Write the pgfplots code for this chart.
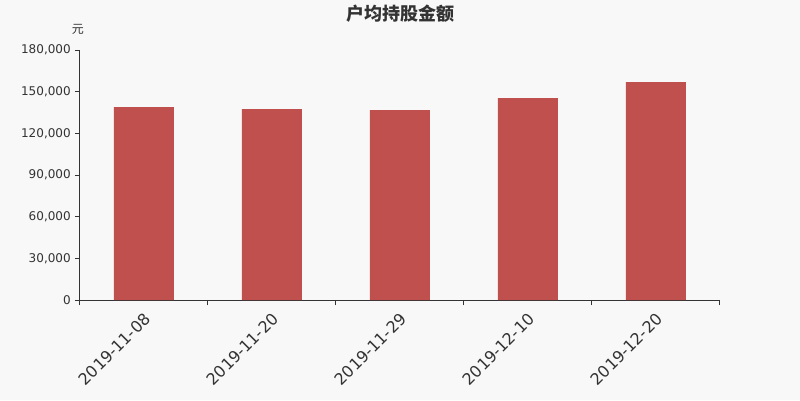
\documentclass[border=0pt]{standalone}
\usepackage{pgfplots}
\pgfplotsset{compat=1.18}
\usepackage{fontspec}
\setmainfont{DejaVu Sans}
\newfontfamily\cjk{Noto Sans CJK SC}
\definecolor{bg}{HTML}{F8F8F8}
\definecolor{barred}{HTML}{C0504D}
\definecolor{txt}{HTML}{333333}
\begin{document}
\begin{tikzpicture}
% 1px = 0.75pt; plot area is 640x250 px at (80,50) in a 800x400 picture
\fill[bg] (-60pt,-75pt) rectangle (540pt,225pt);
\begin{axis}[
  at={(0,0)}, anchor=south west,
  scale only axis,
  width=480pt, height=187.5pt,
  axis lines*=left,
  axis line style={txt, line width=0.75pt},
  xmin=-0.5, xmax=4.5,
  ymin=0, ymax=180000,
  ytick={0,30000,...,180000},
  scaled y ticks=false,
  xtick={-0.5,0.5,...,4.5},
  x tick label as interval,
  xticklabels={2019-11-08,2019-11-20,2019-11-29,2019-12-10,2019-12-20},
  tick align=outside,
  major tick length=3.75pt,
  tick style={txt, line width=0.75pt},
  /pgf/number format/assume math mode=true,
  /pgf/number format/.cd, fixed, 1000 sep={,},
  /pgfplots/.cd,
  yticklabel style={font=\fontsize{9}{10}\selectfont, text=txt, inner sep=0pt, xshift=-3pt},
  xticklabel style={font=\fontsize{12}{13}\selectfont, text=txt, rotate=45, anchor=north east, inner sep=0pt, xshift=-4pt, yshift=-3pt},
  ybar, bar width=45pt,
  clip=false,
]
\addplot[fill=barred, draw=none, bar shift=0pt] coordinates {
  (0,138960) (1,137520) (2,136800) (3,145440) (4,156960)
};
\end{axis}
\node[text=txt, font=\cjk\bfseries\fontsize{13.5}{15}\selectfont] at (240pt,215.25pt) {户均持股金额};
\node[text=txt, font=\cjk\fontsize{9}{10}\selectfont] at (-1.5pt,203.25pt) {元};
\end{tikzpicture}
\end{document}
